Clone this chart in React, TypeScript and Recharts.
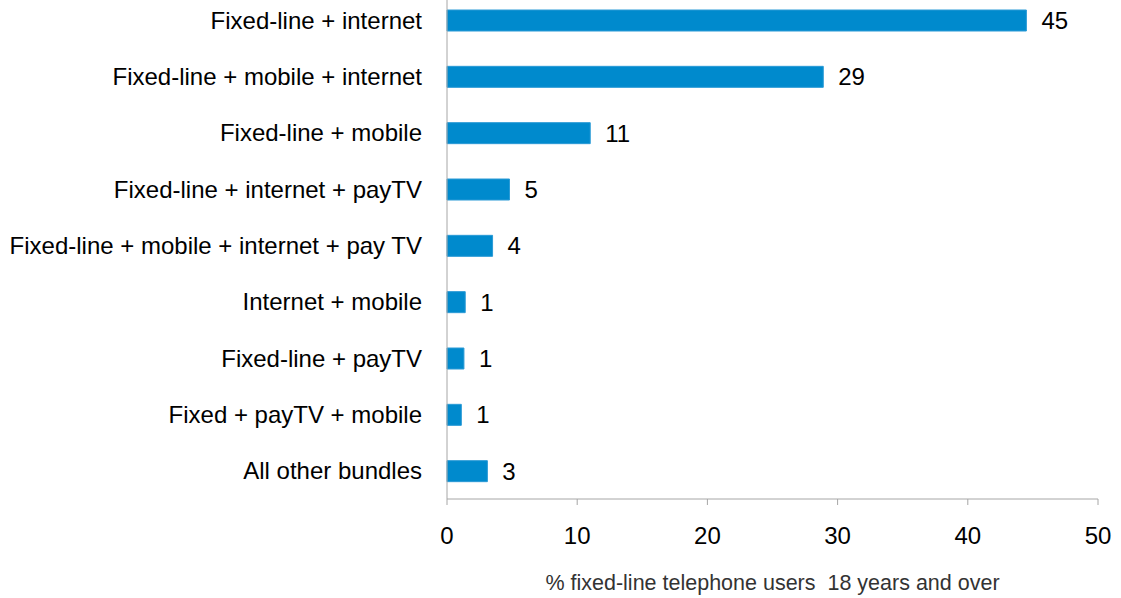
import { Bar, BarChart, LabelList, XAxis, YAxis } from 'recharts'

const bundles = [
  'Fixed-line + internet',
  'Fixed-line + mobile + internet',
  'Fixed-line + mobile',
  'Fixed-line + internet + payTV',
  'Fixed-line + mobile + internet + pay TV',
  'Internet + mobile',
  'Fixed-line + payTV',
  'Fixed + payTV + mobile',
  'All other bundles',
]
const shares = [44.5, 28.9, 11, 4.8, 3.5, 1.4, 1.3, 1.1, 3.1]
const shareLabels = [45, 29, 11, 5, 4, 1, 1, 1, 3]
const xTicks = [0, 10, 20, 30, 40, 50]
const bandEdges = [0, 1, 2, 3, 4, 5, 6, 7, 8, 9]

const data = bundles.map((name, i) => ({ name, value: shares[i], label: shareLabels[i] }))

const font = '"Liberation Sans", Arial, sans-serif'
const axisGrey = '#a6a6a6'

export default function App() {
  return (
    <div style={{ position: 'absolute', left: 0, top: 0, fontFamily: font }}>
      <BarChart
        width={1121}
        height={598}
        data={data}
        layout="vertical"
        margin={{ top: -8, right: 23, left: 0, bottom: 0 }}
      >
        <XAxis
          type="number"
          domain={[0, 50]}
          ticks={xTicks}
          interval={0}
          height={99}
          stroke={axisGrey}
          tickSize={6}
          tickMargin={22}
          tick={{ fill: '#000', fontSize: 24, fontFamily: font }}
          label={{
            value: '% fixed-line telephone users\u00a0 18 years and over',
            position: 'insideBottom',
            offset: 8,
            fill: '#333',
            fontSize: 21.5,
            fontFamily: font,
          }}
        />
        {/* unlabelled axis only for the tick marks between categories */}
        <YAxis
          yAxisId="a-edges"
          type="number"
          domain={[0, 9]}
          ticks={bandEdges}
          interval={0}
          reversed
          width={1}
          tick={false}
          tickLine={{ stroke: axisGrey }}
          tickSize={6}
          axisLine={{ stroke: axisGrey }}
        />
        <YAxis
          yAxisId="b-names"
          type="category"
          dataKey="name"
          width={446}
          interval={0}
          tickLine={false}
          axisLine={false}
          tickSize={0}
          tickMargin={24}
          tick={{ fill: '#000', fontSize: 24, fontFamily: font }}
        />
        <Bar
          yAxisId="b-names"
          dataKey="value"
          fill="#008acd"
          stroke="#2a9ad6"
          strokeWidth={1}
          barSize={21}
          isAnimationActive={false}
        >
          <LabelList
            dataKey="label"
            position="right"
            offset={15}
            fill="#000"
            fontSize={24}
            fontFamily={font}
          />
        </Bar>
      </BarChart>
    </div>
  )
}
